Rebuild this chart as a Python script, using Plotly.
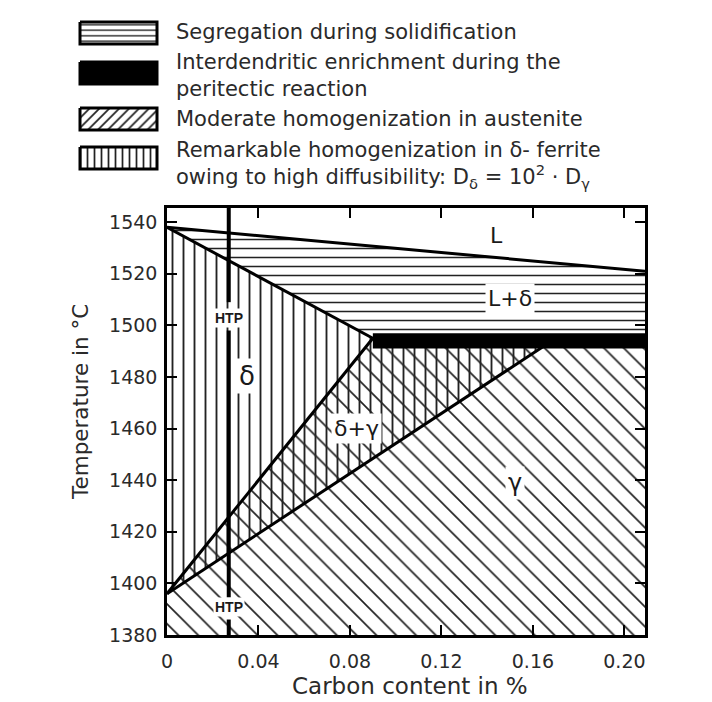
import plotly.graph_objects as go

W, H = 712, 702

# ---------------- axes ----------------
x_tick_vals = [0, 0.04, 0.08, 0.12, 0.16, 0.20]
x_tick_text = ["0", "0.04", "0.08", "0.12", "0.16", "0.20"]
y_tick_vals = [1380, 1400, 1420, 1440, 1460, 1480, 1500, 1520, 1540]
x_range = [0, 0.209]
y_range = [1380, 1545.5]

# ---------------- phase boundaries (C %, T °C) ----------------
liquidus_c = [0.0, 0.209]
liquidus_t = [1538, 1521]
solidus_c = [0.0, 0.09]
solidus_t = [1538, 1495]
delta_solvus_c = [0.0, 0.09]
delta_solvus_t = [1396, 1495]
gamma_solvus_c = [0.0, 0.17]
gamma_solvus_t = [1396, 1495]
peritectic_c = [0.09, 0.209]
peritectic_t = [1491, 1497]

htp_c = 0.027
htp_t_segments = [[1545.5, 1509], [1498, 1394.5], [1386, 1380]]

region_labels = ["L", "L+δ", "δ", "δ+γ", "γ"]
region_label_c = [0.144, 0.150, 0.035, 0.083, 0.152]
region_label_t = [1535, 1510.5, 1480.5, 1460, 1439]
region_label_size = [22, 22, 26, 22, 24]
htp_label_t = [1503, 1391]

legend_labels = [
    "Segregation during solidification",
    "Interdendritic enrichment during the<br>peritectic reaction",
    "Moderate homogenization in austenite",
    "Remarkable homogenization in δ- ferrite<br>owing to high diffusibility: D<sub>δ</sub> = 10<sup>2</sup> · D<sub>γ</sub>",
]
legend_patterns = ["-", "solid", "/", "|"]

FONT = "DejaVu Sans, Liberation Sans, sans-serif"
INK = "#1a1a1a"
TXT = "#2a2a2a"

fig = go.Figure()

def pattern_fill(cs, ts, shape, size, solidity, xa="x", ya="y"):
    fig.add_trace(go.Scatter(
        x=cs + [cs[0]], y=ts + [ts[0]], mode="lines", fill="toself",
        fillcolor="rgba(0,0,0,0)", line=dict(width=0),
        fillpattern=dict(shape=shape, size=size, solidity=solidity,
                         fgcolor="#222222", fillmode="replace"),
        hoverinfo="skip", showlegend=False, xaxis=xa, yaxis=ya))

# L + delta : horizontal hatching
ld_c = [liquidus_c[0], liquidus_c[1], peritectic_c[1], peritectic_c[0], solidus_c[1], solidus_c[0]]
ld_t = [liquidus_t[0], liquidus_t[1], peritectic_t[1], peritectic_t[1], solidus_t[1], solidus_t[0]]
pattern_fill(ld_c, ld_t, "-", 9, 0.17)

# delta and delta+gamma : vertical hatching
dv_c = [solidus_c[0], solidus_c[1], gamma_solvus_c[1], gamma_solvus_c[0]]
dv_t = [solidus_t[0], solidus_t[1], gamma_solvus_t[1], gamma_solvus_t[0]]
pattern_fill(dv_c, dv_t, "|", 11, 0.17)

# delta+gamma and gamma : diagonal hatching
gd_c = [delta_solvus_c[0], delta_solvus_c[1], peritectic_c[1], x_range[1], x_range[0]]
gd_t = [delta_solvus_t[0], delta_solvus_t[1], solidus_t[1], y_range[0], y_range[0]]
pattern_fill(gd_c, gd_t, "\\", 14, 0.12)

# peritectic black band
fig.add_trace(go.Scatter(
    x=[peritectic_c[0], peritectic_c[1], peritectic_c[1], peritectic_c[0], peritectic_c[0]],
    y=[peritectic_t[0], peritectic_t[0], peritectic_t[1], peritectic_t[1], peritectic_t[0]],
    mode="lines", fill="toself", fillcolor="black", line=dict(width=0, color="black"),
    hoverinfo="skip", showlegend=False))

# boundary lines
for cs, ts in [(liquidus_c, liquidus_t), (solidus_c, solidus_t),
               (delta_solvus_c, delta_solvus_t), (gamma_solvus_c, gamma_solvus_t)]:
    fig.add_trace(go.Scatter(x=cs, y=ts, mode="lines",
                             line=dict(color="black", width=3),
                             hoverinfo="skip", showlegend=False))

# HTP vertical line
hx, hy = [], []
for seg in htp_t_segments:
    hx += [htp_c, htp_c, None]
    hy += [seg[0], seg[1], None]
fig.add_trace(go.Scatter(x=hx, y=hy, mode="lines", line=dict(color="black", width=4),
                         hoverinfo="skip", showlegend=False))

annotations = []
for lab, c, t, s in zip(region_labels, region_label_c, region_label_t, region_label_size):
    annotations.append(dict(x=c, y=t, xref="x", yref="y", text=lab, showarrow=False,
                            font=dict(family=FONT, size=s, color=INK),
                            bgcolor="white", borderpad=2))
for t in htp_label_t:
    annotations.append(dict(x=htp_c, y=t, xref="x", yref="y", text="<b>HTP</b>",
                            showarrow=False, bgcolor="white", borderpad=1,
                            font=dict(family="Liberation Sans, Arial, sans-serif", size=14, color=INK)))

# ---------------- legend (pixel axis, top band only) ----------------
LEG_H = 200
box_x0, box_x1 = 80, 157
box_tops = [22, 62, 108, 147]
box_h = 22
text_y = [32, 75, 119, 165]
pat_sizes = {"-": 5.5, "/": 7, "|": 7}
for lab, pat, top, ty in zip(legend_labels, legend_patterns, box_tops, text_y):
    bx = [box_x0, box_x1, box_x1, box_x0, box_x0]
    by = [top, top, top + box_h, top + box_h, top]
    if pat == "solid":
        fig.add_trace(go.Scatter(x=bx, y=by, mode="lines", fill="toself", fillcolor="black",
                                 line=dict(color="black", width=3), hoverinfo="skip",
                                 showlegend=False, xaxis="x2", yaxis="y2"))
    else:
        fig.add_trace(go.Scatter(x=bx, y=by, mode="lines", fill="toself",
                                 fillcolor="rgba(0,0,0,0)",
                                 fillpattern=dict(shape=pat, size=pat_sizes[pat], solidity=0.25,
                                                  fgcolor="#222222", fillmode="replace"),
                                 line=dict(color="black", width=3), hoverinfo="skip",
                                 showlegend=False, xaxis="x2", yaxis="y2"))
    annotations.append(dict(x=174, y=ty, xref="x2", yref="y2", text=lab, showarrow=False,
                            xanchor="left", yanchor="middle", align="left",
                            font=dict(family=FONT, size=21, color=TXT)))

# axis titles
x_dom = [167 / W, 645 / W]
y_dom = [1 - 635 / H, 1 - 208 / H]
annotations.append(dict(x=410 / W, y=1 - 686 / H, xref="paper", yref="paper",
                        xanchor="center", yanchor="middle",
                        text="Carbon content in %", showarrow=False,
                        font=dict(family=FONT, size=23, color=TXT)))
annotations.append(dict(x=80 / W, y=1 - 402 / H, xref="paper", yref="paper",
                        xanchor="center", yanchor="middle",
                        text="Temperature in °C", showarrow=False, textangle=-90,
                        font=dict(family=FONT, size=21.5, color=TXT)))

axis_common = dict(showline=True, linecolor="black", linewidth=2.5, mirror="ticks",
                   ticks="inside", ticklen=10, tickwidth=1.5, tickcolor="black",
                   showgrid=False, zeroline=False, automargin=False,
                   tickfont=dict(family=FONT, size=19, color=TXT))

fig.update_layout(
    width=W, height=H, margin=dict(l=0, r=0, t=0, b=0),
    paper_bgcolor="white", plot_bgcolor="rgba(0,0,0,0)",
    xaxis=dict(domain=x_dom, range=x_range, tickvals=x_tick_vals, ticktext=x_tick_text,
               ticklabelstandoff=7, **axis_common),
    yaxis=dict(domain=y_dom, range=y_range, tickvals=y_tick_vals,
               ticklabelstandoff=3, **axis_common),
    xaxis2=dict(domain=[0, 1], range=[0, W], visible=False, anchor="y2"),
    yaxis2=dict(domain=[1 - LEG_H / H, 1], range=[LEG_H, 0], visible=False, anchor="x2"),
    annotations=annotations,
    showlegend=False,
)

fig.write_html("out.html")
